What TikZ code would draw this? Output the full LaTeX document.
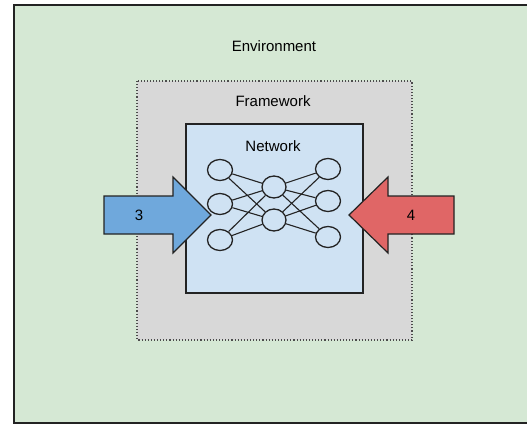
\documentclass[tikz,border=0pt]{standalone}
\usepackage{fontspec}
\setmainfont{Liberation Sans}
\usepackage{tikz}
\usetikzlibrary{shapes.geometric}
\definecolor{envgreen}{RGB}{213,232,212}
\definecolor{fwgray}{RGB}{216,216,216}
\definecolor{netblue}{RGB}{207,226,243}
\definecolor{inblue}{RGB}{111,168,220}
\definecolor{outred}{RGB}{224,102,102}
\definecolor{edgegray}{RGB}{35,35,35}

\begin{document}
\begin{tikzpicture}[x=1pt,y=-1pt,font=\fontsize{15}{18}\selectfont,
	neuron/.style={draw=edgegray,ellipse,line width=1.3pt,inner sep=0pt,minimum width=25pt,minimum height=21pt},
	synapse/.style={draw=edgegray,line width=1.1pt}]
\useasboundingbox (0,0) rectangle (527,425);
\clip (0,0) rectangle (527,425);
			% Boites
\draw [fill=envgreen,draw=edgegray,line width=2pt] (14,5) rectangle (540,423);
\node (env) at (274,46) {Environment};
\draw [fill=fwgray,draw=gray!60!black,line width=1.1pt,dotted] (137,81) rectangle (412,340);
\node (fw) at (273,101) {Framework};
\node [draw=edgegray,fill=netblue,line width=1.5pt,minimum width=177pt,minimum height=169pt] (net) at (274.5,208.5) {};
\node (netlabel) at (273,146) {Network};
			% Flèches
\draw [fill=inblue,draw=edgegray,line width=1.2pt] (104,196) -- (173,196) -- (173,177) -- (211,215) -- (173,253) -- (173,234) -- (104,234) -- cycle;
\node (in) at (139,215) {3};
\draw [fill=outred,draw=edgegray,line width=1.2pt] (454,196) -- (388,196) -- (388,177) -- (349,215) -- (388,253) -- (388,234) -- (454,234) -- cycle;
\node (out) at (411,215) {4};
			% Neurones
\foreach \i/\y in {1/170,2/204,3/240} \node [neuron] (a\i) at (220,\y) {};
\foreach \i/\y in {1/187,2/220} \node [neuron,minimum width=24pt,minimum height=22pt] (b\i) at (274,\y) {};
\foreach \i/\y in {1/169,2/201,3/237} \node [neuron] (c\i) at (328,\y) {};
\foreach \i in {1,2,3}
	\foreach \j in {1,2} {
		\draw [synapse] (a\i) -- (b\j);
		\draw [synapse] (b\j) -- (c\i);
	}
\end{tikzpicture}
\end{document}
